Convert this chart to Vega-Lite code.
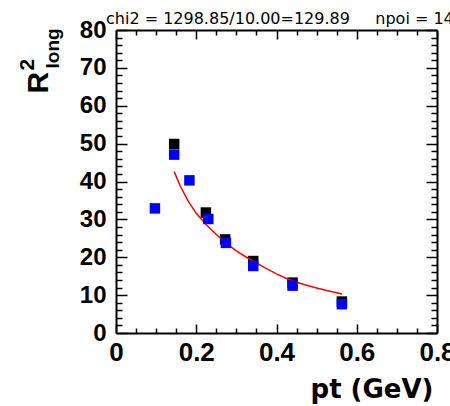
{
  "$schema": "https://vega.github.io/schema/vega-lite/v6.json",
  "width": 321,
  "height": 303,
  "autosize": "none",
  "padding": {"left": 116, "top": 30, "right": 13, "bottom": 73},
  "background": "white",
  "config": {
    "view": {"stroke": null},
    "axis": {"grid": false, "domainColor": "#000000", "domainWidth": 2, "tickColor": "#000000", "tickWidth": 1.5, "labelColor": "#000000", "titleColor": "#000000", "labelFlush": false, "labelOverlap": false, "labelBound": false}
  },
  "title": {
    "text": "chi2 = 1298.85/10.00=129.89\u00a0\u00a0\u00a0\u00a0\u00a0npoi = 14",
    "anchor": "start",
    "frame": "group",
    "font": "DejaVu Sans",
    "fontSize": 16,
    "fontWeight": "normal",
    "color": "#000000",
    "baseline": "alphabetic",
    "offset": 0,
    "dx": -10,
    "dy": 22
  },
  "datasets": {
    "black": [
      {"pt": 0.145, "r2": 49.9},
      {"pt": 0.224, "r2": 31.8},
      {"pt": 0.272, "r2": 24.7},
      {"pt": 0.342, "r2": 19.0},
      {"pt": 0.44, "r2": 13.3},
      {"pt": 0.563, "r2": 8.3}
    ],
    "blue": [
      {"pt": 0.097, "r2": 32.9},
      {"pt": 0.145, "r2": 47.1},
      {"pt": 0.183, "r2": 40.3},
      {"pt": 0.23, "r2": 30.1},
      {"pt": 0.274, "r2": 23.8},
      {"pt": 0.342, "r2": 17.7},
      {"pt": 0.44, "r2": 12.5},
      {"pt": 0.563, "r2": 7.6}
    ],
    "fit": [
      {"pt": 0.145, "r2": 42.6},
      {"pt": 0.16, "r2": 38.8},
      {"pt": 0.18, "r2": 34.8},
      {"pt": 0.2, "r2": 31.6},
      {"pt": 0.225, "r2": 28.6},
      {"pt": 0.25, "r2": 26.0},
      {"pt": 0.275, "r2": 23.6},
      {"pt": 0.3, "r2": 21.7},
      {"pt": 0.325, "r2": 20.0},
      {"pt": 0.35, "r2": 18.5},
      {"pt": 0.375, "r2": 17.0},
      {"pt": 0.4, "r2": 15.6},
      {"pt": 0.425, "r2": 14.4},
      {"pt": 0.45, "r2": 13.4},
      {"pt": 0.475, "r2": 12.6},
      {"pt": 0.5, "r2": 11.9},
      {"pt": 0.525, "r2": 11.2},
      {"pt": 0.55, "r2": 10.6},
      {"pt": 0.563, "r2": 10.3}
    ]
  },
  "layer": [
    {
      "data": {"name": "black"},
      "mark": {"type": "point", "shape": "square", "filled": true, "size": 110, "color": "#000000", "opacity": 1},
      "encoding": {
        "x": {
          "field": "pt", "type": "quantitative",
          "scale": {"domain": [0, 0.8], "nice": false, "zero": false},
          "axis": {
            "orient": "bottom",
            "values": [0, 0.05, 0.1, 0.15, 0.2, 0.25, 0.3, 0.35, 0.4, 0.45, 0.5, 0.55, 0.6, 0.65, 0.7, 0.75, 0.8],
            "labelExpr": "abs(datum.value*5 - round(datum.value*5)) < 0.001 ? format(datum.value, '.2~g') : ''",
            "tickSize": {"condition": {"test": "abs(datum.value*5 - round(datum.value*5)) < 0.001", "value": -9}, "value": -5},
            "labelPadding": 15,
            "labelBaseline": "top",
            "labelAlign": "center",
            "labelFont": "Liberation Sans",
            "labelFontSize": 26,
            "labelFontWeight": "bold",
            "title": "pt (GeV)",
            "titleFont": "DejaVu Sans",
            "titleFontSize": 26,
            "titleFontWeight": "bold",
            "titleAlign": "right",
            "titleBaseline": "alphabetic",
            "titleAngle": 0,
            "titleX": 317,
            "titleY": 64
          }
        },
        "y": {
          "field": "r2", "type": "quantitative",
          "scale": {"domain": [0, 80], "nice": false, "zero": false},
          "axis": {
            "orient": "left",
            "values": [0, 2, 4, 6, 8, 10, 12, 14, 16, 18, 20, 22, 24, 26, 28, 30, 32, 34, 36, 38, 40, 42, 44, 46, 48, 50, 52, 54, 56, 58, 60, 62, 64, 66, 68, 70, 72, 74, 76, 78, 80],
            "labelExpr": "datum.value % 10 === 0 ? format(datum.value, 'd') : ''",
            "tickSize": {"condition": {"test": "datum.value % 10 === 0", "value": -11}, "value": -6},
            "labelPadding": 21,
            "labelAlign": "right",
            "labelBaseline": "middle",
            "labelFont": "Liberation Sans",
            "labelFontSize": 24,
            "labelFontWeight": "bold",
            "title": "R",
            "titleFont": "Liberation Sans",
            "titleFontSize": 30,
            "titleFontWeight": "bold",
            "titleAngle": -90,
            "titleAlign": "left",
            "titleBaseline": "alphabetic",
            "titleX": -69,
            "titleY": 63
          }
        }
      }
    },
    {
      "data": {"name": "fit"},
      "mark": {"type": "line", "color": "#ff0000", "strokeWidth": 1.5},
      "encoding": {
        "x": {
          "field": "pt", "type": "quantitative",
          "scale": {"domain": [0, 0.8], "nice": false, "zero": false},
          "axis": {
            "orient": "top",
            "values": [0, 0.05, 0.1, 0.15, 0.2, 0.25, 0.3, 0.35, 0.4, 0.45, 0.5, 0.55, 0.6, 0.65, 0.7, 0.75, 0.8],
            "labels": false,
            "tickSize": {"condition": {"test": "abs(datum.value*5 - round(datum.value*5)) < 0.001", "value": -9}, "value": -5},
            "title": "2",
            "titleFont": "Liberation Sans",
            "titleFontSize": 21,
            "titleFontWeight": "bold",
            "titleAngle": -90,
            "titleAlign": "left",
            "titleBaseline": "alphabetic",
            "titleX": -83,
            "titleY": 40
          }
        },
        "y": {
          "field": "r2", "type": "quantitative",
          "scale": {"domain": [0, 80], "nice": false, "zero": false},
          "axis": {
            "orient": "right",
            "values": [0, 2, 4, 6, 8, 10, 12, 14, 16, 18, 20, 22, 24, 26, 28, 30, 32, 34, 36, 38, 40, 42, 44, 46, 48, 50, 52, 54, 56, 58, 60, 62, 64, 66, 68, 70, 72, 74, 76, 78, 80],
            "labels": false,
            "tickSize": {"condition": {"test": "datum.value % 10 === 0", "value": -11}, "value": -6},
            "title": "long",
            "titleFont": "Liberation Sans",
            "titleFontSize": 19,
            "titleFontWeight": "bold",
            "titleAngle": -90,
            "titleAlign": "left",
            "titleBaseline": "alphabetic",
            "titleX": -379,
            "titleY": 38
          }
        }
      }
    },
    {
      "data": {"name": "blue"},
      "mark": {"type": "point", "shape": "square", "filled": true, "size": 110, "color": "#0000ff", "opacity": 1},
      "encoding": {
        "x": {"field": "pt", "type": "quantitative", "scale": {"domain": [0, 0.8], "nice": false, "zero": false}, "axis": null},
        "y": {"field": "r2", "type": "quantitative", "scale": {"domain": [0, 80], "nice": false, "zero": false}, "axis": null}
      }
    }
  ],
  "resolve": {"axis": {"x": "independent", "y": "independent"}}
}
